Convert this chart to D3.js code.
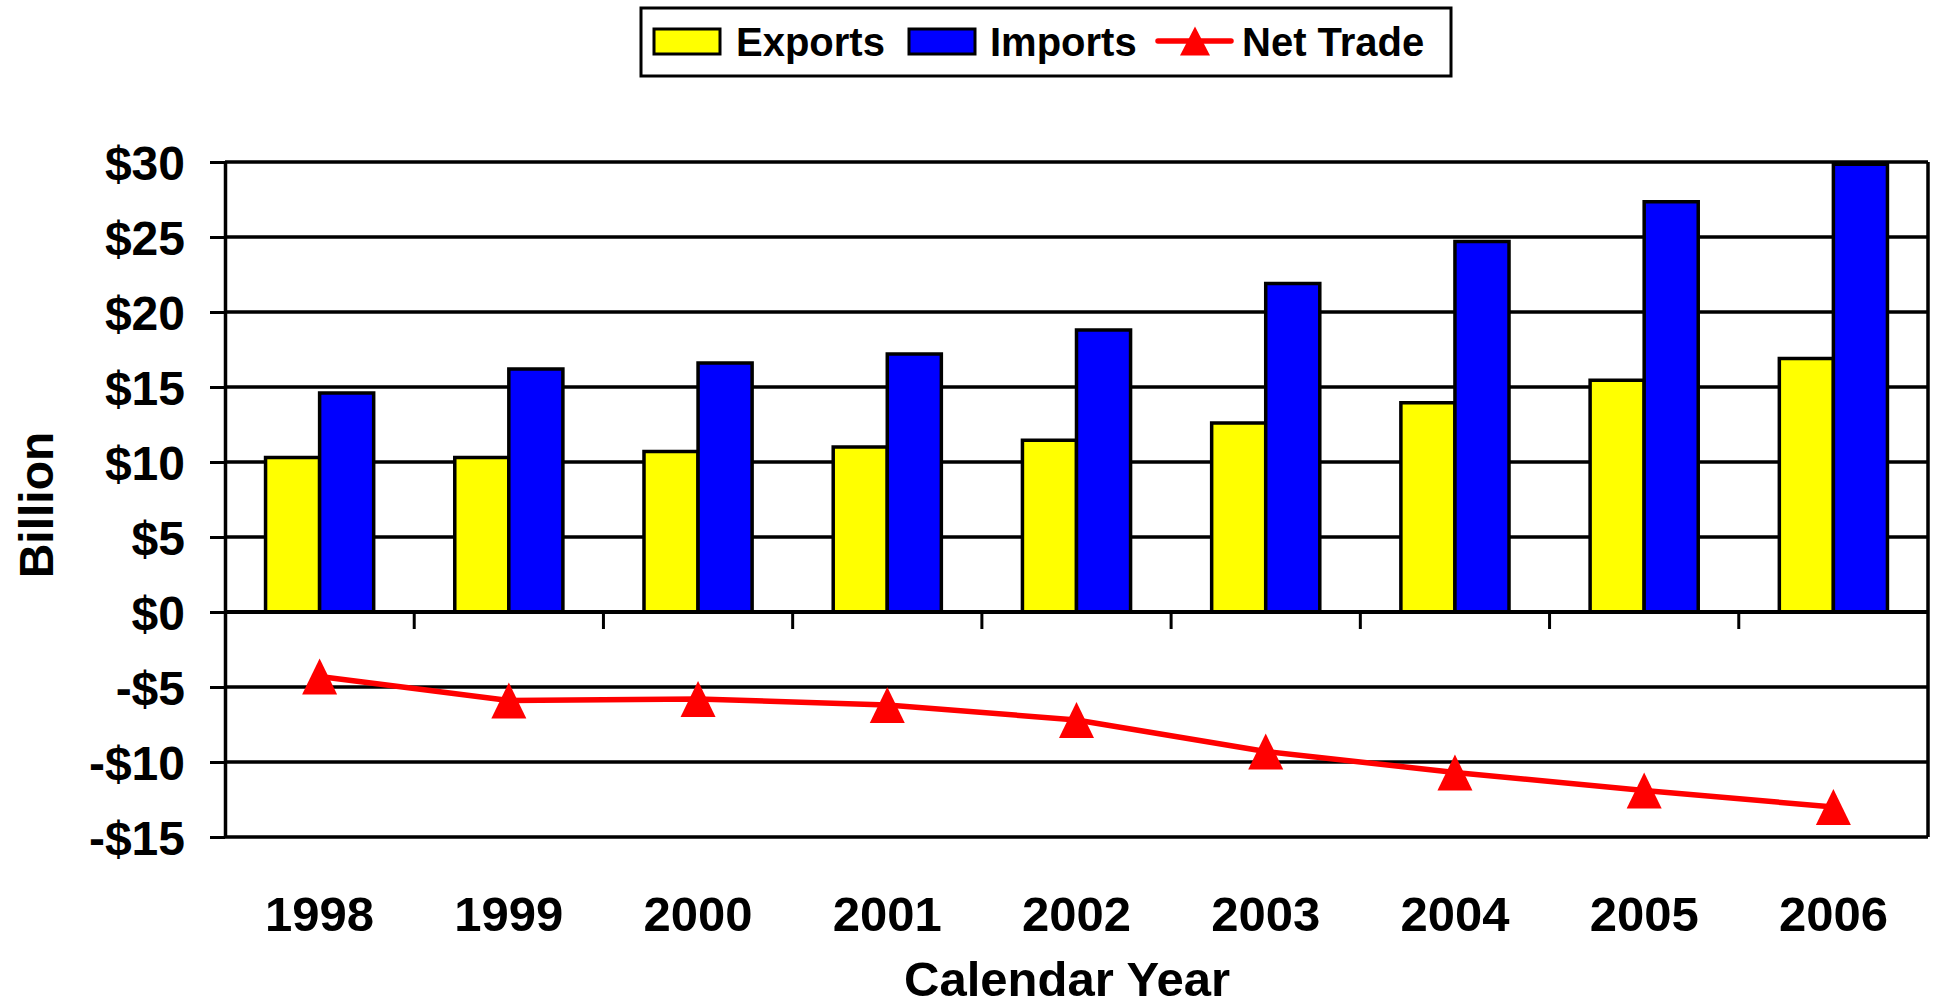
<!DOCTYPE html>
<html>
<head>
<meta charset="utf-8">
<script src="https://cdn.jsdelivr.net/npm/d3@7"></script>
<style>
  html, body { margin: 0; padding: 0; background: #fff; }
  svg { display: block; }
  text { font-family: "Liberation Sans", Arial, sans-serif; font-weight: bold; fill: #000; }
</style>
</head>
<body>
<svg id="chart" width="1936" height="1008"></svg>
<script>
const years = ["1998", "1999", "2000", "2001", "2002", "2003", "2004", "2005", "2006"];
const exportsData = [10.3, 10.3, 10.7, 11.0, 11.45, 12.6, 13.95, 15.45, 16.9];
const importsData = [14.6, 16.2, 16.6, 17.2, 18.8, 21.9, 24.7, 27.35, 29.85];
const netTrade = [-4.3, -5.9, -5.8, -6.2, -7.2, -9.3, -10.7, -11.9, -13.0];
const yTicks = [-15, -10, -5, 0, 5, 10, 15, 20, 25, 30];
const seriesNames = ["Exports", "Imports", "Net Trade"];
const colors = { Exports: "#FFFF00", Imports: "#0000FF", "Net Trade": "#FF0000" };

(function () {
const svg = d3.select("#chart");
const pLeft = 225, pRight = 1928, pTop = 162, pBottom = 837;

const x = d3.scaleBand().domain(years).range([pLeft, pRight]).padding(0);
const xs = d3.scaleBand().domain(["Exports", "Imports"]).range([0, x.bandwidth()])
  .paddingInner(0).paddingOuter(0.75);
const y = d3.scaleLinear().domain([-15, 30]).range([pBottom, pTop]);

const fmt = d => d < 0 ? "-$" + (-d) : "$" + d;

// gridlines
svg.append("g").selectAll("line").data(yTicks).join("line")
  .attr("x1", pLeft).attr("x2", pRight)
  .attr("y1", d => y(d)).attr("y2", d => y(d))
  .attr("stroke", "#000").attr("stroke-width", 3.5);

// bars
const rows = years.map((yr, i) => ({ year: yr, Exports: exportsData[i], Imports: importsData[i] }));
const groups = svg.append("g").selectAll("g").data(rows).join("g")
  .attr("transform", d => `translate(${x(d.year)},0)`);
groups.selectAll("rect").data(d => ["Exports", "Imports"].map(k => ({ key: k, value: d[k] }))).join("rect")
  .attr("x", d => xs(d.key))
  .attr("width", xs.bandwidth())
  .attr("y", d => y(d.value))
  .attr("height", d => y(0) - y(d.value))
  .attr("fill", d => colors[d.key])
  .attr("stroke", "#000").attr("stroke-width", 3.5);

// x axis line at zero + category ticks
svg.append("line").attr("x1", pLeft).attr("x2", pRight)
  .attr("y1", y(0)).attr("y2", y(0)).attr("stroke", "#000").attr("stroke-width", 4);
svg.append("g").selectAll("line").data(years.slice(1)).join("line")
  .attr("x1", d => x(d)).attr("x2", d => x(d))
  .attr("y1", y(0)).attr("y2", y(0) + 17)
  .attr("stroke", "#000").attr("stroke-width", 3);

// y axis
const yAxis = svg.append("g").attr("transform", `translate(${pLeft},0)`)
  .call(d3.axisLeft(y).tickValues(yTicks).tickFormat(fmt).tickSizeInner(15).tickSizeOuter(0).tickPadding(25));
yAxis.select(".domain").attr("stroke", "#000").attr("stroke-width", 3.5);
yAxis.selectAll(".tick line").attr("stroke", "#000").attr("stroke-width", 3);
yAxis.selectAll(".tick text").attr("font-size", 48).attr("dy", "0.36em")
  .attr("font-family", "'Liberation Sans', Arial, sans-serif").attr("font-weight", "bold").attr("fill", "#000");

// right border
svg.append("line").attr("x1", pRight).attr("x2", pRight).attr("y1", pTop).attr("y2", pBottom)
  .attr("stroke", "#000").attr("stroke-width", 3.5);

// net trade line
const cx = d => x(d) + x.bandwidth() / 2;
const netPts = years.map((yr, i) => ({ year: yr, value: netTrade[i] }));
svg.append("path").datum(netPts)
  .attr("d", d3.line().x(d => cx(d.year)).y(d => y(d.value)))
  .attr("fill", "none").attr("stroke", colors["Net Trade"]).attr("stroke-width", 5.5)
  .attr("stroke-linejoin", "round");
const tri = (w, h) => `M0,${-h / 2}L${w / 2},${h / 2}L${-w / 2},${h / 2}Z`;
svg.append("g").selectAll("path").data(netPts).join("path")
  .attr("d", tri(35, 36))
  .attr("transform", d => `translate(${cx(d.year)},${y(d.value)})`)
  .attr("fill", colors["Net Trade"]);

// year labels
svg.append("g").selectAll("text").data(years).join("text")
  .attr("x", d => cx(d)).attr("y", 931)
  .attr("text-anchor", "middle").attr("font-size", 49).text(d => d);

// axis titles
svg.append("text").attr("x", 1067).attr("y", 996).attr("text-anchor", "middle")
  .attr("font-size", 49).text("Calendar Year");
svg.append("text").attr("transform", "translate(53,505) rotate(-90)")
  .attr("text-anchor", "middle").attr("font-size", 48).text("Billion");

// legend
const lg = svg.append("g");
lg.append("rect").attr("x", 641).attr("y", 8).attr("width", 810).attr("height", 68)
  .attr("fill", "#fff").attr("stroke", "#000").attr("stroke-width", 3);
const legendItems = [
  { name: seriesNames[0], sx: 654, tx: 736 },
  { name: seriesNames[1], sx: 909, tx: 990 },
  { name: seriesNames[2], sx: 1158, tx: 1242 }
];
legendItems.forEach(it => {
  if (it.name === "Net Trade") {
    lg.append("line").attr("x1", it.sx).attr("x2", it.sx + 73).attr("y1", 41).attr("y2", 41)
      .attr("stroke", colors[it.name]).attr("stroke-width", 5.5).attr("stroke-linecap", "round");
    lg.append("path").attr("d", tri(30, 29)).attr("transform", `translate(${it.sx + 37},41)`)
      .attr("fill", colors[it.name]);
  } else {
    lg.append("rect").attr("x", it.sx).attr("y", 29).attr("width", 66).attr("height", 25)
      .attr("fill", colors[it.name]).attr("stroke", "#000").attr("stroke-width", 3);
  }
  lg.append("text").attr("x", it.tx).attr("y", 56).attr("font-size", 40).text(it.name);
});
})();
</script>
</body>
</html>
